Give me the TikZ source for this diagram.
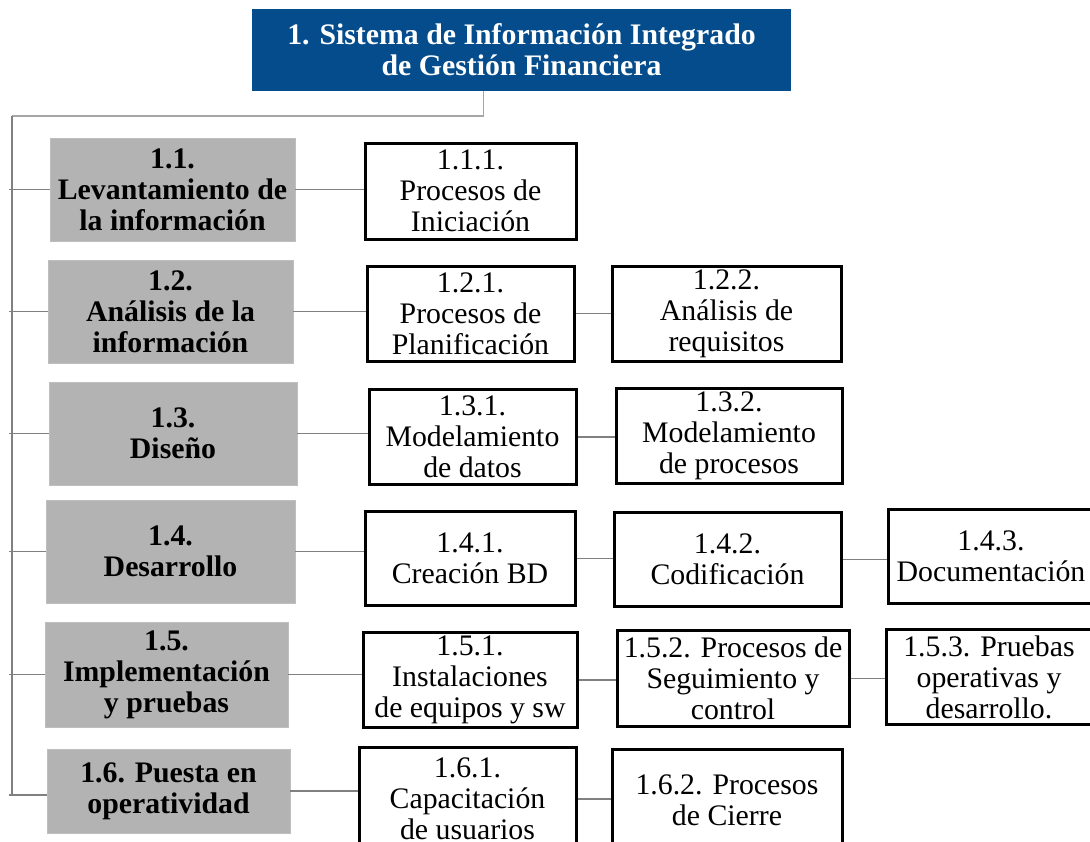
\documentclass[tikz,border=0pt]{standalone}
\usepackage{fontspec}
\setmainfont{Liberation Serif}
\definecolor{topblue}{RGB}{4,76,140}
\definecolor{boxgray}{RGB}{179,179,179}
\definecolor{linegray}{RGB}{128,128,128}
\definecolor{lightline}{RGB}{166,166,166}
\begin{document}
\begin{tikzpicture}[x=1pt,y=-1pt,
  txt/.style={font=\fontsize{29.8}{31}\selectfont, align=center, inner sep=0pt},
  topbox/.style={txt, fill=topblue, text=white, font=\fontsize{29.8}{31}\selectfont\bfseries},
  graybox/.style={txt, fill=boxgray, draw=boxgray!85!white, line width=0.8pt, font=\fontsize{29.8}{31}\selectfont\bfseries},
  whitebox/.style={txt, fill=white, draw=black, line width=3pt},
  conn/.style={draw=linegray, line width=1.2pt},
  topconn/.style={draw=lightline, line width=1.3pt}]
\clip (0,0) rectangle (1090,841);
\fill[white] (0,0) rectangle (1090,841);

\node[topbox, minimum width=539, minimum height=82] (top) at (521.5,50) {1. Sistema de Información Integrado\\de Gestión Financiera};

\node[graybox, minimum width=245, minimum height=103] (g1) at (172.5,189.5) {1.1.\\Levantamiento de\\la información};
\node[graybox, minimum width=245, minimum height=103] (g2) at (170.5,311.5) {1.2.\\Análisis de la\\información};
\node[graybox, minimum width=248, minimum height=103] (g3) at (173,433.5) {1.3.\\Diseño};
\node[graybox, minimum width=249, minimum height=103] (g4) at (170.5,551.5) {1.4.\\Desarrollo};
\node[graybox, minimum width=243, minimum height=105] (g5) at (166.5,674.5) {1.5.\\Implementación\\y pruebas};
\node[graybox, minimum width=243, minimum height=84] (g6) at (168.5,791) {1.6. Puesta en\\operatividad};

\node[whitebox, minimum width=211, minimum height=96] (w111) at (470.5,191) {1.1.1.\\Procesos de\\Iniciación};
\node[whitebox, minimum width=207, minimum height=95] (w121) at (470.5,313.5) {1.2.1.\\Procesos de\\Planificación};
\node[whitebox, minimum width=229, minimum height=95] (w122) at (726.5,313.5) {1.2.2.\\Análisis de\\requisitos};
\node[whitebox, minimum width=207, minimum height=95] (w131) at (472.5,437) {1.3.1.\\Modelamiento\\de datos};
\node[whitebox, minimum width=226, minimum height=95] (w132) at (729,436) {1.3.2.\\Modelamiento\\de procesos};
\node[whitebox, minimum width=210, minimum height=94] (w141) at (470,558.5) {1.4.1.\\Creación BD};
\node[whitebox, minimum width=227, minimum height=94] (w142) at (727.5,559.5) {1.4.2.\\Codificación};
\node[whitebox, minimum width=206, minimum height=94] (w143) at (991,556.5) {1.4.3.\\Documentación};
\node[whitebox, minimum width=214, minimum height=95] (w151) at (470,680) {1.5.1.\\Instalaciones\\de equipos y sw};
\node[whitebox, minimum width=232, minimum height=96] (w152) at (733,678.5) {1.5.2. Procesos de\\Seguimiento y\\control};
\node[whitebox, minimum width=206, minimum height=95] (w153) at (989,677) {1.5.3. Pruebas\\operativas y\\desarrollo.};
\node[whitebox, minimum width=217, minimum height=104] (w161) at (467.5,799) {1.6.1.\\Capacitación\\de usuarios};
\node[whitebox, minimum width=230, minimum height=102] (w162) at (727,800) {1.6.2. Procesos\\de Cierre};

% trunk
\coordinate (t0) at (12,116);
\draw[topconn] ([xshift=-38pt]top.south) |- (t0);
\draw[conn] (t0) -- ([yshift=-4pt]t0 |- g6.west);
\foreach \g in {g1,g2,g3,g4,g5}{
  \draw[conn] ([xshift=-3pt]t0 |- \g.west) -- (\g.west);
}
\draw[conn] ([xshift=-3pt,yshift=-4pt]t0 |- g6.west) -- ([yshift=-4pt]g6.west);
% gray to white
\draw[conn] (g1.east) -- (g1.east -| w111.west);
\draw[conn] (g2.east) -- (g2.east -| w121.west);
\draw[conn] (g3.east) -- (g3.east -| w131.west);
\draw[conn] (g4.east) -- (g4.east -| w141.west);
\draw[conn] (g5.east) -- (g5.east -| w151.west);
\draw[conn] (g6.east) -- (g6.east -| w161.west);
% white to white
\draw[conn] (w121.east) -- (w121.east -| w122.west);
\draw[conn] (w131.east) -- (w131.east -| w132.west);
\draw[conn] (w141.east) -- (w141.east -| w142.west);
\draw[conn] (w142.east) -- (w142.east -| w143.west);
\draw[conn] (w151.east) -- (w151.east -| w152.west);
\draw[conn] (w152.east) -- (w152.east -| w153.west);
\draw[conn] (w161.east) -- (w161.east -| w162.west);
\end{tikzpicture}
\end{document}
